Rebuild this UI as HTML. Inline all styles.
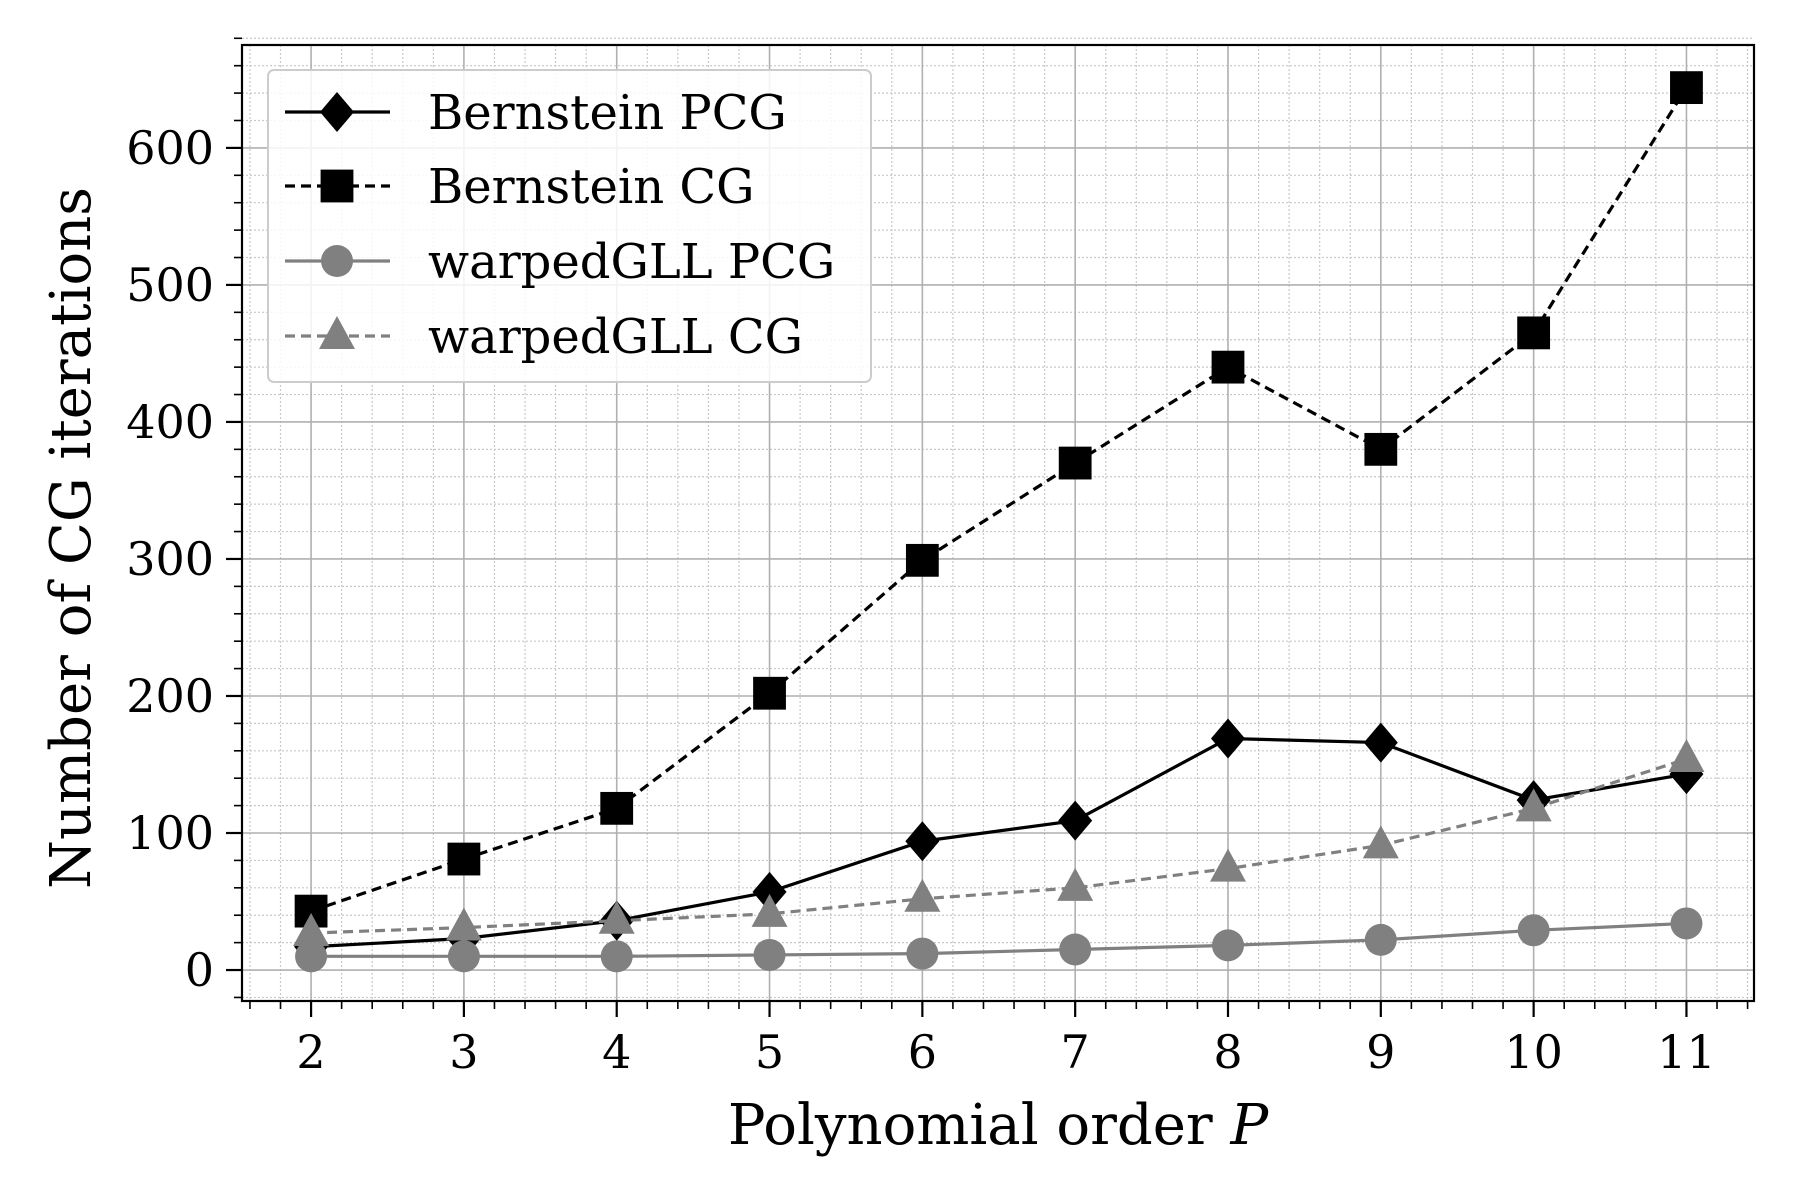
<!DOCTYPE html>
<html><head><meta charset="utf-8"><style>
html,body{margin:0;padding:0;background:#fff}
svg{display:block;font-family:"DejaVu Serif","Liberation Serif",serif}
</style></head><body>
<svg id="chart" xmlns="http://www.w3.org/2000/svg" width="1800" height="1200" viewBox="0 0 1800 1200">
<rect width="1800" height="1200" fill="#fff"/>
<g id="grid"></g><g id="series"></g><g id="axes"></g><g id="legend"></g>
</svg>
<script>
const orders = [2,3,4,5,6,7,8,9,10,11];
const bernPCG = [17,23,36,57,94,109,169,166,124,143];
const bernCG = [43,81,118,202,299,370,440,380,465,644];
const gllPCG = [10,10,10,11,12,15,18,22,29,34];
const gllCG = [27,31,36,41,52,60,74,91,118,154];
const xTicks = [2,3,4,5,6,7,8,9,10,11];
const yTicks = [0,100,200,300,400,500,600];
const seriesNames = ["Bernstein PCG","Bernstein CG","warpedGLL PCG","warpedGLL CG"];

const L=242,R=1754,T=45,B=1001;
const x0v=1.548,x1v=11.442,y0v=-22.6,y1v=652.5+22.6;
function X(v){return L+(v-x0v)/(x1v-x0v)*(R-L);}
function Y(v){return B-(v-y0v)/(y1v-y0v)*(B-T);}
const NS="http://www.w3.org/2000/svg";
function el(tag,attrs,parent){const e=document.createElementNS(NS,tag);for(const k in attrs)e.setAttribute(k,attrs[k]);parent.appendChild(e);return e;}
const grid=document.getElementById('grid'),axes=document.getElementById('axes'),ser=document.getElementById('series'),leg=document.getElementById('legend');

for(let v=1.6;v<=11.44;v+=0.2){const xv=Math.round(v*10)/10;if(Math.abs(xv-Math.round(xv))<1e-6)continue;
 const l=el('line',{x1:X(xv),x2:X(xv),y1:T,y2:B,stroke:'#c8c8c8','stroke-width':1.2,'stroke-dasharray':'2,2'},grid);
 }
for(let v=-20;v<=680;v+=20){if(v%100===0)continue;
 const l=el('line',{x1:L,x2:R,y1:Y(v),y2:Y(v),stroke:'#c8c8c8','stroke-width':1.2,'stroke-dasharray':'2,2'},grid);
 }
xTicks.forEach(v=>{const l=el('line',{x1:X(v),x2:X(v),y1:T,y2:B,stroke:'#b0b0b0','stroke-width':1.6},grid);
 });
yTicks.forEach(v=>{const l=el('line',{x1:L,x2:R,y1:Y(v),y2:Y(v),stroke:'#b0b0b0','stroke-width':1.6},grid);
 });

function marker(kind,cx,cy,color,g,s){
 let m;
 if(kind==='D'){m=el('polygon',{points:`${cx},${cy-s} ${cx+s*0.85},${cy} ${cx},${cy+s} ${cx-s*0.85},${cy}`,fill:color},g);}
 else if(kind==='s'){m=el('rect',{x:cx-s*0.82,y:cy-s*0.82,width:s*1.64,height:s*1.64,fill:color},g);}
 else if(kind==='o'){m=el('circle',{cx:cx,cy:cy,r:s*0.8,fill:color},g);}
 else {m=el('polygon',{points:`${cx},${cy-s} ${cx+s*0.9},${cy+s*0.65} ${cx-s*0.9},${cy+s*0.65}`,fill:color},g);}
 return m;
}
const defs=[
 {data:bernPCG,color:'#000',dash:'',m:'D',name:'bernstein-pcg'},
 {data:bernCG,color:'#000',dash:'10,6',m:'s',name:'bernstein-cg'},
 {data:gllPCG,color:'#808080',dash:'',m:'o',name:'warpedgll-pcg'},
 {data:gllCG,color:'#808080',dash:'10,6',m:'^',name:'warpedgll-cg'}];
defs.forEach(d=>{
 const g=el('g',{},ser);
 
 const pts=orders.map((o,i)=>X(o)+','+Y(d.data[i])).join(' ');
 const pl=el('polyline',{points:pts,fill:'none',stroke:d.color,'stroke-width':3.2,'stroke-dasharray':d.dash},g);
 
 orders.forEach((o,i)=>{const m=marker(d.m,X(o),Y(d.data[i]),d.color,g,20);
  });
});

const fr=el('rect',{x:L,y:T,width:R-L,height:B-T,fill:'none',stroke:'#000','stroke-width':2.2},axes);

xTicks.forEach(v=>{
 const t=el('line',{x1:X(v),x2:X(v),y1:B,y2:B+16,stroke:'#000','stroke-width':2.2},axes);
 
 const tx=el('text',{x:X(v),y:B+67,'text-anchor':'middle','font-size':46},axes);tx.textContent=v;
 });
for(let v=1.6;v<=11.44;v+=0.2){const xv=Math.round(v*10)/10;if(Math.abs(xv-Math.round(xv))<1e-6)continue;
 const t=el('line',{x1:X(xv),x2:X(xv),y1:B,y2:B+8,stroke:'#000','stroke-width':1.6},axes);
 }
yTicks.forEach(v=>{
 const t=el('line',{x1:L-16,x2:L,y1:Y(v),y2:Y(v),stroke:'#000','stroke-width':2.2},axes);
 
 const tx=el('text',{x:L-28,y:Y(v)+16,'text-anchor':'end','font-size':46},axes);tx.textContent=v;
 });
for(let v=-20;v<=680;v+=20){if(v%100===0)continue;
 const t=el('line',{x1:L-8,x2:L,y1:Y(v),y2:Y(v),stroke:'#000','stroke-width':1.6},axes);
 }
const xl=el('text',{x:(L+R)/2,y:1144,'text-anchor':'middle','font-size':56},axes);
xl.innerHTML='Polynomial order <tspan font-style="italic">P</tspan>';

const yl=el('text',{x:0,y:0,'text-anchor':'middle','font-size':56,transform:`translate(90,${(T+B)/2+15}) rotate(-90)`},axes);
yl.textContent='Number of CG iterations';


const lb=el('rect',{x:268,y:70,width:603,height:312,rx:6,fill:'#fff','fill-opacity':0.85,stroke:'#ccc','stroke-width':2},leg);

const ly=[112,186,261,336];
defs.forEach((d,i)=>{
 const g=el('g',{},leg);
 
 el('line',{x1:285,x2:390,y1:ly[i],y2:ly[i],stroke:d.color,'stroke-width':3.2,'stroke-dasharray':d.dash},g);
 marker(d.m,337,ly[i],d.color,g,20);
 const t=el('text',{x:428,y:ly[i]+17,'font-size':48},g);t.textContent=seriesNames[i];
});
</script>
</body></html>
